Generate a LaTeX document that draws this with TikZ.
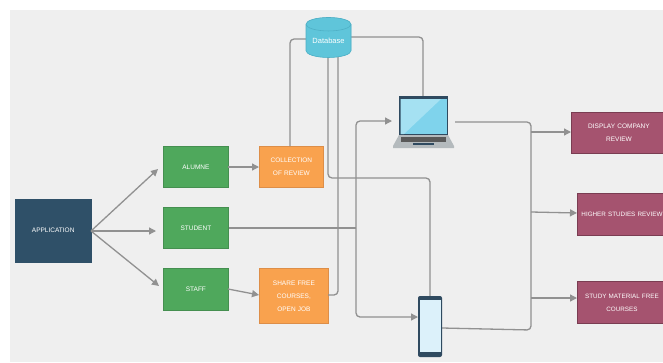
\documentclass[tikz,border=0pt]{standalone}
\usepackage{fontspec}
\setmainfont{Liberation Sans}
\usetikzlibrary{arrows.meta,shapes.geometric}
\definecolor{bggray}{HTML}{EFEFEF}
\definecolor{linegray}{HTML}{919191}
\definecolor{navy}{HTML}{2F5068}
\definecolor{gfill}{HTML}{4FA85C}
\definecolor{gedge}{HTML}{458F50}
\definecolor{ofill}{HTML}{F9A24E}
\definecolor{oedge}{HTML}{DD8E48}
\definecolor{pfill}{HTML}{A5536F}
\definecolor{pedge}{HTML}{7A3D52}
\definecolor{dbfill}{HTML}{5FC5DA}
\definecolor{dbedge}{HTML}{4FB0C6}
\definecolor{screenblue}{HTML}{7FD3EC}
\definecolor{screenlight}{HTML}{A5E1F2}
\definecolor{framedark}{HTML}{2F4A60}
\definecolor{basegray}{HTML}{B4BABD}
\definecolor{phonescreen}{HTML}{DCF1FA}
\tikzset{
  x=1pt,y=-1pt,
  txt/.style={text=white,font=\fontsize{6.5}{13}\selectfont,align=center,inner sep=0pt},
  blockbox/.style={anchor=north west,txt},
  appbox/.style={blockbox,fill=navy,draw=navy},
  greenbox/.style={blockbox,fill=gfill,draw=gedge,line width=.8pt},
  orangebox/.style={blockbox,fill=ofill,draw=oedge,line width=.8pt},
  pinkbox/.style={blockbox,fill=pfill,draw=pedge,line width=.9pt},
  link/.style={draw=linegray,line width=1.3pt,rounded corners=4pt},
  arrowlink/.style={link,-{Triangle[length=7pt,width=7pt]}}
}
\newcommand{\boxat}[7]{\node[#1,minimum width=#4pt,minimum height=#5pt,text width=#6pt] (#2) at (#3) {#7};}
\begin{document}
\begin{tikzpicture}
\useasboundingbox (0,0) rectangle (663,362);
\fill[white] (0,0) rectangle (663,362);
\fill[bggray] (10,10) rectangle (663,362);

% blocks
\boxat{appbox}{app}{15,199}{76}{63}{74}{APPLICATION}
\boxat{greenbox}{alumne}{163,146}{65}{41}{60}{ALUMNE}
\boxat{greenbox}{student}{163,207}{65}{41}{60}{STUDENT}
\boxat{greenbox}{staff}{163,268}{65}{42}{60}{STAFF}
\boxat{orangebox}{collect}{259,146}{64}{41}{60}{COLLECTION\\OF REVIEW}
\boxat{orangebox}{share}{259,268}{69}{55}{64}{SHARE FREE\\COURSES,\\OPEN JOB}
\boxat{pinkbox}{display}{571,112}{95}{41}{84}{DISPLAY COMPANY\\REVIEW}
\boxat{pinkbox}{higher}{577,193}{89}{42}{86}{{\fontsize{6.3}{13}\selectfont HIGHER STUDIES REVIEW}}
\boxat{pinkbox}{study}{577,281}{89}{42}{86}{{\fontsize{6.3}{13}\selectfont STUDY MATERIAL FREE\\COURSES}}

% hidden anchors for the devices
\node[anchor=north west,minimum width=61pt,minimum height=52pt,inner sep=0pt] (laptop) at (393,96) {};
\node[anchor=north west,minimum width=24pt,minimum height=61pt,inner sep=0pt] (phone) at (418,296) {};

% junction and free-end coordinates
\coordinate (appout) at (91,231);
\coordinate (tipalumne) at (158,169);
\coordinate (tipstudent) at (156,231);
\coordinate (tipstaff) at (159,286);
\coordinate (busa) at (356,121);
\coordinate (busb) at (356,228);
\coordinate (busc) at (356,317);
\coordinate (trunktop) at (531,122);
\coordinate (trunkbot) at (531,330);
\coordinate (ta) at (531,132);
\coordinate (tb) at (531,212);
\coordinate (tc) at (531,298);
\coordinate (coltop) at (290,146);
\coordinate (colcorner) at (290,39);
\coordinate (dbleft) at (306,39);
\coordinate (dbright) at (351,37);
\coordinate (dbcorner) at (423,37);
\coordinate (laptoptop) at (423,96);
\coordinate (dba) at (328,55);
\coordinate (dbacorner) at (328,178);
\coordinate (dbaturn) at (430,178);
\coordinate (phonetop) at (430,296);
\coordinate (dbb) at (338,55);
\coordinate (dbbend) at (338,295);
\coordinate (shareout) at (328,295);

% connectors
\draw[arrowlink] (appout) -- (tipalumne);
\draw[arrowlink] (appout) -- (tipstudent);
\draw[arrowlink] (appout) -- (tipstaff);
\draw[arrowlink] (228,167) coordinate (alout) -- (collect.west |- alout);
\draw[arrowlink] (228,289) coordinate (stout) -- (259,295) coordinate (shin);
\draw[link] (coltop) -- (colcorner) -- (dbleft);
\draw[link] (dbright) -- (dbcorner) -- (laptoptop);
\draw[link] (dba) -- (dbacorner) -- (dbaturn) -- (phonetop);
\draw[link] (dbb) -- (dbbend) -- (shareout);
\draw[link] (student.east |- busb) -- (busb);
\draw[arrowlink] (busb) -- (busa) -- (392,121) coordinate (lapin);
\draw[arrowlink] (busb) -- (busc) -- (phone.west |- busc);
\draw[link] (455,122) coordinate (lapout) -- (trunktop) -- (trunkbot) -- (442,328) coordinate (phout);
\draw[arrowlink] (ta) -- (display.west |- ta);
\draw[arrowlink] (tb) -- (577,213) coordinate (hiin);
\draw[arrowlink] (tc) -- (study.west |- tc);

% database
\node[cylinder,shape border rotate=90,aspect=.42,fill=dbfill,draw=dbedge,line width=.6pt,
  minimum width=45pt,minimum height=40pt,inner sep=0pt,text=white,
  font=\fontsize{7.5}{8}\selectfont,cylinder uses custom fill,
  cylinder body fill=dbfill,cylinder end fill=dbfill!85!black] (db) at (328.5,41) {Database};

% laptop
\fill[framedark] (399,96) rectangle (448,136);
\fill[screenblue] (400.5,99) rectangle (446.5,134);
\fill[screenlight] (400.5,99) -- (441,99) -- (404,134) -- (400.5,134) -- cycle;
\fill[basegray] (399,135) -- (448,135) -- (454,146) -- (454,148) -- (393,148) -- (393,146) -- cycle;
\fill[gray!70!black] (401,136.5) rectangle (446,141.5);
\fill[framedark] (413,143) rectangle (434,145);

% phone
\fill[framedark,rounded corners=2pt] (418,296) rectangle (442,357);
\fill[phonescreen] (419.5,300) rectangle (440.5,352);
\end{tikzpicture}
\end{document}
